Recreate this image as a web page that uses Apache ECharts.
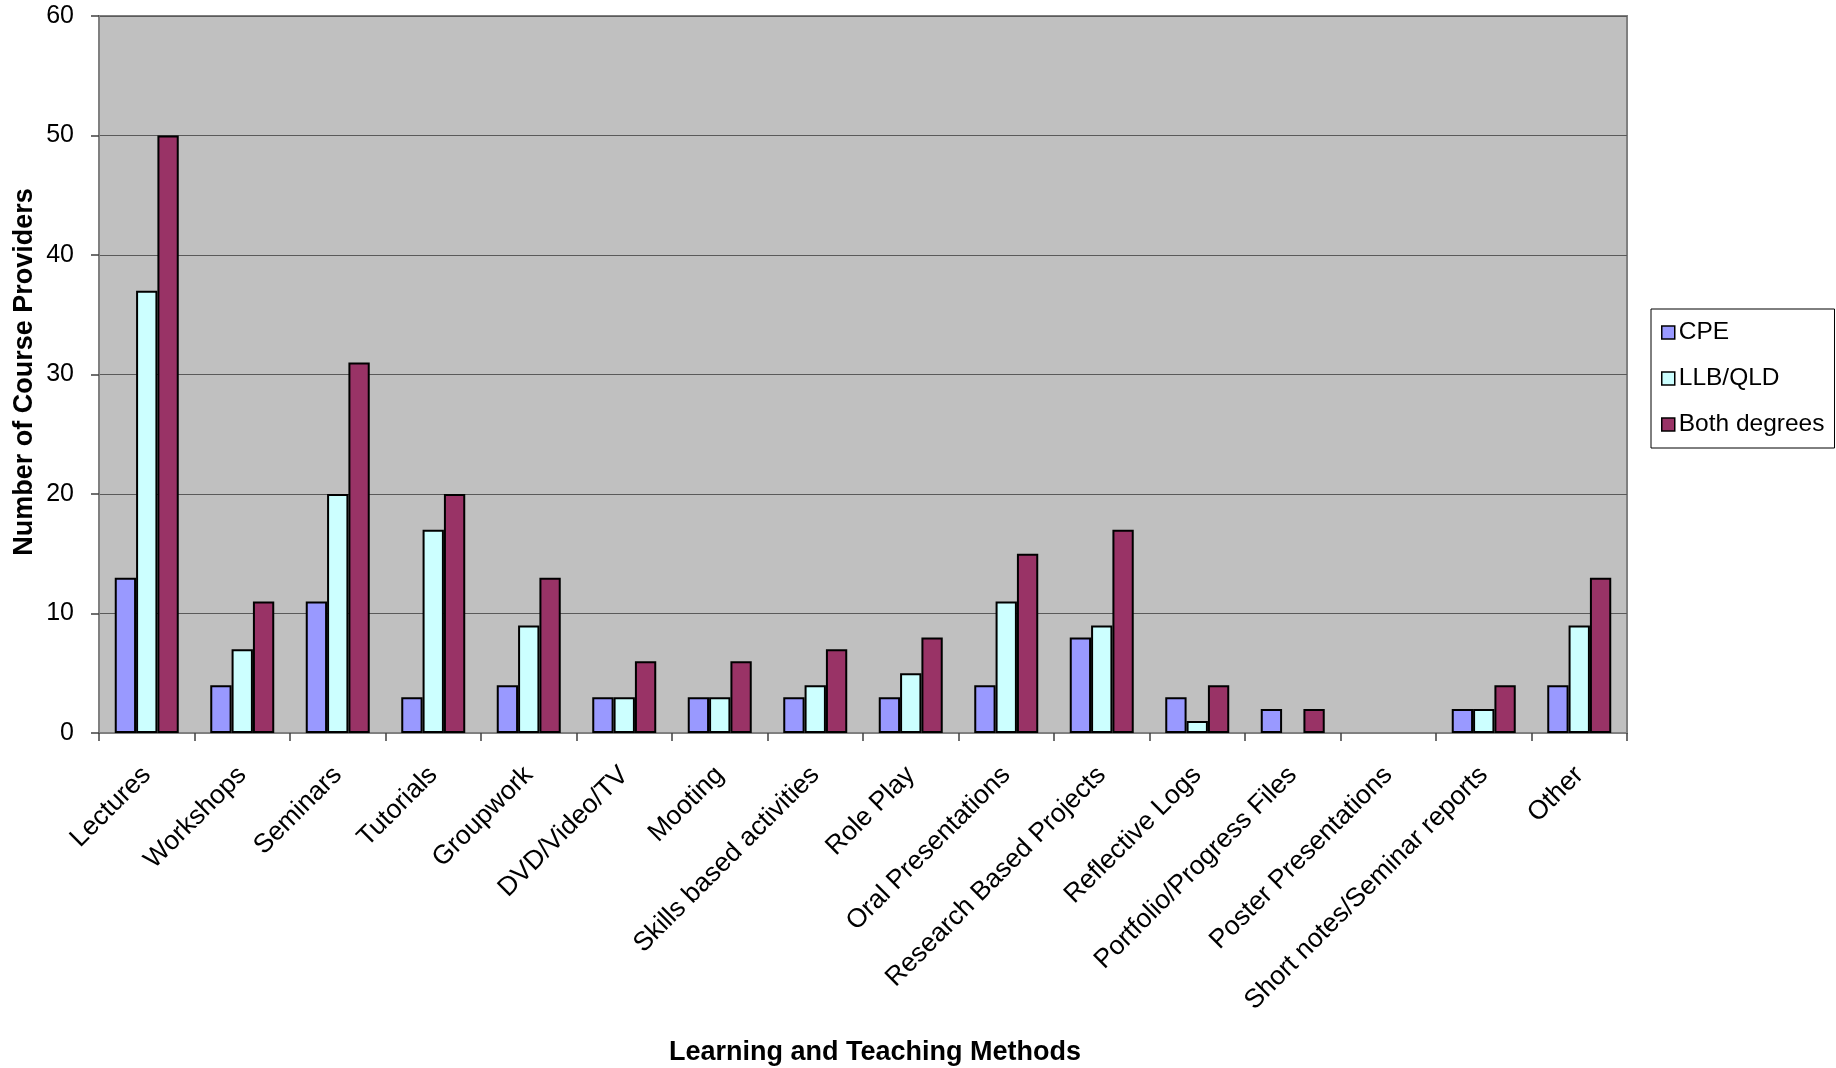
<!DOCTYPE html>
<html>
<head>
<meta charset="utf-8">
<script src="https://cdn.jsdelivr.net/npm/echarts@6/dist/echarts.min.js"></script>
<style>
  html, body { margin: 0; padding: 0; background: #ffffff; }
  #chart { width: 1836px; height: 1068px; }
</style>
</head>
<body>
<div id="chart"></div>
<script>
const categories = [
  'Lectures', 'Workshops', 'Seminars', 'Tutorials', 'Groupwork', 'DVD/Video/TV',
  'Mooting', 'Skills based activities', 'Role Play', 'Oral Presentations',
  'Research Based Projects', 'Reflective Logs', 'Portfolio/Progress Files',
  'Poster Presentations', 'Short notes/Seminar reports', 'Other'
];
const cpe    = [13, 4, 11, 3, 4, 3, 3, 3, 3, 4, 8, 3, 2, 0, 2, 4];
const llbQld = [37, 7, 20, 17, 9, 3, 3, 4, 5, 11, 9, 1, 0, 0, 2, 9];
const both   = [50, 11, 31, 20, 13, 6, 6, 7, 8, 15, 17, 4, 2, 0, 4, 13];
const seriesNames = ['CPE', 'LLB/QLD', 'Both degrees'];
const yTicks = { min: 0, max: 60, interval: 10 };

const FONT = "'Liberation Sans', Arial, sans-serif";
const colors = ['#9999FF', '#CCFFFF', '#993366'];
const seriesData = [cpe, llbQld, both];

const chart = echarts.init(document.getElementById('chart'));
chart.setOption({
  animation: false,
  backgroundColor: '#ffffff',
  grid: {
    left: 99, right: 209, top: 16, bottom: 335,
    show: true, backgroundColor: '#C0C0C0', borderColor: '#808080', borderWidth: 2
  },
  legend: {
    orient: 'vertical',
    left: 1651, top: 309,
    backgroundColor: '#ffffff',
    borderColor: '#000000', borderWidth: 1,
    padding: [11, 10, 11, 10],
    itemGap: 21,
    itemWidth: 13, itemHeight: 13,
    icon: 'rect',
    itemStyle: { borderColor: '#000000', borderWidth: 1.5 },
    textStyle: { fontFamily: FONT, fontSize: 24.5, color: '#000000', padding: [0, 0, 0, -1] },
    data: seriesNames
  },
  xAxis: {
    type: 'category',
    data: categories,
    boundaryGap: true,
    axisLine: { show: true, lineStyle: { color: '#808080', width: 2 } },
    axisTick: { show: true, length: 8, alignWithLabel: false, lineStyle: { color: '#404040', width: 1.5 } },
    axisLabel: {
      interval: 0, rotate: 45, margin: 38,
      fontFamily: FONT, fontSize: 26.5, color: '#000000'
    },
    splitLine: { show: false }
  },
  yAxis: {
    type: 'value',
    min: yTicks.min, max: yTicks.max, interval: yTicks.interval,
    axisLine: { show: true, lineStyle: { color: '#808080', width: 2 } },
    axisTick: { show: true, length: 8, lineStyle: { color: '#404040', width: 1.5 } },
    axisLabel: { margin: 25, fontFamily: FONT, fontSize: 25, color: '#000000' },
    splitLine: { show: true, lineStyle: { color: '#5a5a5a', width: 1 } }
  },
  graphic: [
    {
      type: 'text', x: 875, y: 1053,
      style: {
        text: 'Learning and Teaching Methods', fontFamily: FONT, fontSize: 27, fontWeight: 'bold',
        fill: '#000000', align: 'center', verticalAlign: 'middle'
      }
    },
    {
      type: 'text', x: 25, y: 372, rotation: Math.PI / 2,
      style: {
        text: 'Number of Course Providers', fontFamily: FONT, fontSize: 27, fontWeight: 'bold',
        fill: '#000000', align: 'center', verticalAlign: 'middle'
      }
    }
  ],
  series: seriesNames.map((name, i) => ({
    name: name,
    type: 'bar',
    data: seriesData[i].map(v => (v === 0 ? '-' : v)),
    barGap: '0%',
    barCategoryGap: '33%',
    itemStyle: { color: colors[i], borderColor: '#000000', borderWidth: 2 }
  }))
});
</script>
</body>
</html>
